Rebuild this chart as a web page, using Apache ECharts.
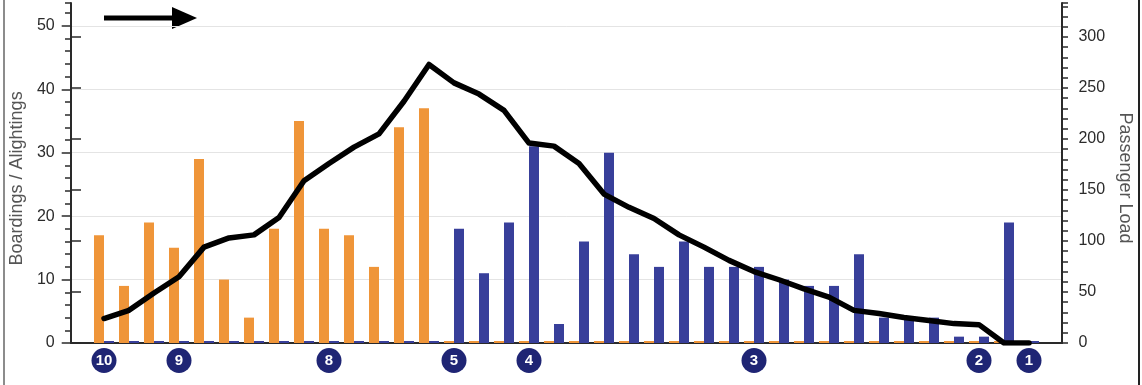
<!DOCTYPE html>
<html>
<head>
<meta charset="utf-8">
<script src="https://cdn.jsdelivr.net/npm/echarts@6/dist/echarts.min.js"></script>
<style>
html,body{margin:0;padding:0;background:#fff;}
#chart{width:1142px;height:385px;}
</style>
</head>
<body>
<div id="chart"></div>
<script>
// ---- data ----
var categories = ['10','','','9','','','','','','8','','','','','5','','','4','','','','','','','','','3','','','','','','','','','2','','1'];
var boardings  = [17,9,19,15,29,10,4,18,35,18,17,12,34,37,0,0,0,0,0,0,0,0,0,0,0,0,0,0,0,0,0,0,0,0,0,0,0,0];
var alightings = [0,0,0,0,0,0,0,0,0,0,0,0,0,0,18,11,19,31,3,16,30,14,12,16,12,12,12,10,9,9,14,4,4,4,1,1,19,0];
var passengerLoad = [24,32,49,65,94,103,106,123,159,176,192,205,237,273,255,244,228,196,193,176,146,133,122,106,94,81,70,62,53,45,32,29,25,22,19,18,0,0];
var leftTicks = [0,10,20,30,40,50];
var rightTicks = [0,50,100,150,200,250,300];

var FONT = '"Liberation Sans", Arial, sans-serif';
var LMAX = 53.6, RMAX = 333.3;
var axisColor = '#2a2a2a';

var chart = echarts.init(document.getElementById('chart'), null, {renderer:'canvas'});
var option = {
  animation:false,
  backgroundColor:'#fff',
  grid:[
    {left:71, right:80, top:3, bottom:42},
    {left:71, right:80, top:343-50*(340/LMAX), bottom:42},
    {left:71, right:80, top:343-300*(340/RMAX), bottom:42},
    {left:91.5, right:100.5, top:3, bottom:42}
  ],
  xAxis:[
    {gridIndex:0, type:'value', min:0, max:1, axisLine:{show:true, lineStyle:{color:axisColor, width:2}}, axisTick:{show:false}, axisLabel:{show:false}, splitLine:{show:false}},
    {gridIndex:1, type:'value', min:0, max:1, show:false},
    {gridIndex:2, type:'value', min:0, max:1, show:false},
    {gridIndex:3, type:'category', data:categories, boundaryGap:true,
      axisLine:{show:false}, axisTick:{show:false}, splitLine:{show:false},
      axisLabel:{interval:0, margin:5,
        formatter:function(v){ return v ? '{c|' + v + '}' : ''; },
        rich:{c:{backgroundColor:'#1f2574', color:'#fff', borderRadius:13, width:25, height:25, lineHeight:25, align:'center', fontWeight:'bold', fontSize:15, fontFamily:FONT}}
      }
    }
  ],
  yAxis:[
    {gridIndex:0, type:'value', position:'left', min:0, max:LMAX, interval:2,
      axisLine:{show:true, lineStyle:{color:axisColor, width:2}}, axisTick:{show:true, length:6, lineStyle:{color:axisColor, width:1.5}},
      axisLabel:{show:false}, splitLine:{show:false}},
    {gridIndex:0, type:'value', position:'right', min:0, max:RMAX, interval:10,
      axisLine:{show:true, lineStyle:{color:axisColor, width:2}}, axisTick:{show:true, length:6, lineStyle:{color:axisColor, width:1.5}},
      axisLabel:{show:false}, splitLine:{show:false}},
    {gridIndex:1, type:'value', position:'left', min:leftTicks[0], max:leftTicks[leftTicks.length-1], interval:10,
      axisLine:{show:false}, axisTick:{show:true, length:10, lineStyle:{color:axisColor, width:1.5}},
      axisLabel:{show:true, margin:17, color:'#2b2b2b', fontSize:16, fontFamily:FONT},
      splitLine:{show:true, lineStyle:{color:'#e4e4e4', width:1}},
      name:'Boardings / Alightings', nameLocation:'middle', nameGap:33,
      nameTextStyle:{color:'#555', fontSize:18, fontFamily:FONT, padding:[0,0,0,12]}},
    {gridIndex:2, type:'value', position:'right', min:rightTicks[0], max:rightTicks[rightTicks.length-1], interval:50,
      axisLine:{show:false}, axisTick:{show:true, length:10, lineStyle:{color:axisColor, width:1.5}},
      axisLabel:{show:true, margin:17, color:'#2b2b2b', fontSize:16, fontFamily:FONT},
      splitLine:{show:false},
      name:'Passenger Load', nameLocation:'middle', nameGap:50, nameRotate:-90,
      nameTextStyle:{color:'#555', fontSize:18, fontFamily:FONT, padding:[0,24,0,0]}},
    {gridIndex:3, type:'value', min:0, max:LMAX, show:false},
    {gridIndex:3, type:'value', min:0, max:RMAX, show:false}
  ],
  series:[
    {name:'Boardings', type:'bar', xAxisIndex:3, yAxisIndex:4, data:boardings, barWidth:10, barGap:'0%', barMinHeight:2,
      itemStyle:{color:'#ef9539'}},
    {name:'Alightings', type:'bar', xAxisIndex:3, yAxisIndex:4, data:alightings, barWidth:10, barGap:'0%', barMinHeight:2,
      itemStyle:{color:'#383f9a'}},
    {name:'Passenger Load', type:'line', xAxisIndex:3, yAxisIndex:5, data:passengerLoad, showSymbol:false, symbol:'none', z:5,
      lineStyle:{color:'#000', width:5.5, join:'round', cap:'round'}}
  ],
  graphic:[
    {type:'line', shape:{x1:104, y1:18, x2:178, y2:18}, style:{stroke:'#000', lineWidth:5}},
    {type:'polygon', shape:{points:[[172,7],[197,18],[172,29]]}, style:{fill:'#000'}},
    {type:'line', shape:{x1:4, y1:0, x2:4, y2:385}, style:{stroke:'#666', lineWidth:1.5}},
    {type:'line', shape:{x1:1139, y1:0, x2:1139, y2:385}, style:{stroke:'#222', lineWidth:2}}
  ]
};
chart.setOption(option);
</script>
</body>
</html>
